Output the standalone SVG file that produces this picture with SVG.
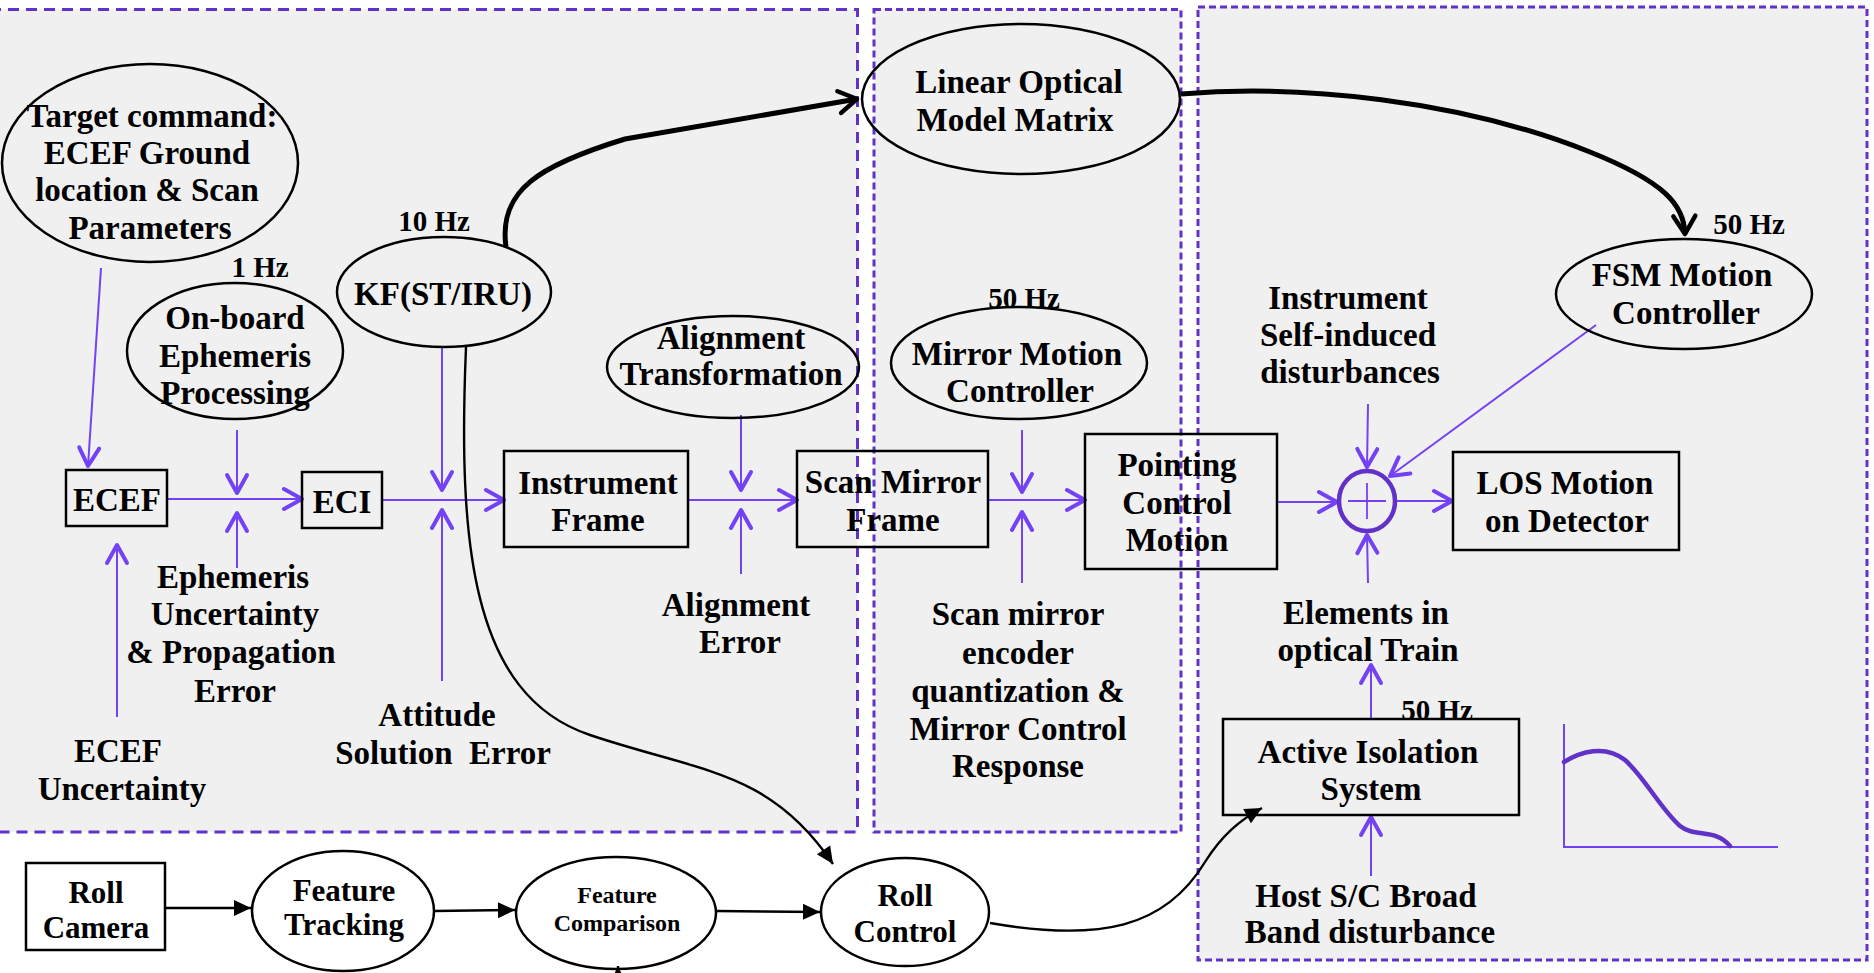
<svg xmlns="http://www.w3.org/2000/svg" width="1874" height="973" viewBox="0 0 1874 973">
<style>
text{font-family:"Liberation Serif","Times New Roman",serif;font-weight:bold;fill:#000;text-anchor:middle;font-size:33px}
.sm{font-size:29px}
.bt{font-size:31px}
.fc{font-size:24px}
.panel{fill:#f0f0f0;stroke:#6232c8;stroke-width:3}
.node{fill:none;stroke:#000;stroke-width:2.5}
.pl{fill:none;stroke:#7442f5;stroke-width:2;marker-end:url(#pv)}
.bk{fill:none;stroke:#000;stroke-width:2.4}
.bkt{fill:none;stroke:#000;stroke-width:5}
</style>
<defs>
<marker id="pv" markerUnits="userSpaceOnUse" markerWidth="40" markerHeight="40" viewBox="-25 -20 40 40" refX="0" refY="0" orient="auto" overflow="visible">
<path d="M-18,-10 L0,0 L-18,10" fill="none" stroke="#7442f5" stroke-width="4" stroke-linecap="round" stroke-linejoin="round"/>
</marker>
<marker id="bv" markerUnits="userSpaceOnUse" markerWidth="40" markerHeight="40" viewBox="-25 -20 40 40" refX="0" refY="0" orient="auto" overflow="visible">
<path d="M-18,-11 L0,0 L-18,11" fill="none" stroke="#000" stroke-width="4.5" stroke-linecap="round" stroke-linejoin="round"/>
</marker>
<marker id="bf" markerUnits="userSpaceOnUse" markerWidth="30" markerHeight="30" viewBox="-20 -12 30 24" refX="0" refY="0" orient="auto" overflow="visible">
<path d="M-17,-8 L0,0 L-17,8 Z" fill="#000"/>
</marker>
</defs>
<rect width="1874" height="973" fill="#fff"/>
<g id="panels">
<rect class="panel" x="-10" y="9.5" width="867.5" height="822.5" stroke-dasharray="11 7"/>
<rect class="panel" x="874" y="9.5" width="307" height="822.5" stroke-dasharray="7 4"/>
<rect class="panel" x="1198" y="7" width="669" height="953" stroke-dasharray="7 4"/>
</g>
<g id="connectors">
<path class="pl" d="M101,268 L88,466"/>
<path class="pl" d="M117,717 L117,545"/>
<path class="pl" d="M167,499 L302,499"/>
<path class="pl" d="M237,430 L237,493"/>
<path class="pl" d="M237,568 L237,513"/>
<path class="pl" d="M382,500 L504,500"/>
<path class="pl" d="M442,347 L442,490"/>
<path class="pl" d="M442,681 L442,510"/>
<path class="pl" d="M688,500 L797,500"/>
<path class="pl" d="M741,415 L741,490"/>
<path class="pl" d="M741,574 L741,510"/>
<path class="pl" d="M988,500 L1085,500"/>
<path class="pl" d="M1022,430 L1022,492"/>
<path class="pl" d="M1022,583 L1022,512"/>
<path class="pl" d="M1277,502 L1337,502"/>
<path class="pl" d="M1396,501 L1452,501"/>
<path class="pl" d="M1368,404 L1367,467"/>
<path class="pl" d="M1368,583 L1367,535"/>
<path class="pl" d="M1596,325 L1390,476"/>
<path class="pl" d="M1371,719 L1371,665"/>
<path class="pl" d="M1371,876 L1371,817"/>
<path class="bkt" d="M506,247 C498,190 540,165 625,139 L857,99" marker-end="url(#bv)"/>
<path class="bkt" d="M1181,94 C1300,84 1460,100 1590,152 C1665,182 1684,205 1685,234" marker-end="url(#bv)"/>
<path class="bk" d="M466,347 C458,540 470,695 590,735 C700,772 770,770 833,864" marker-end="url(#bf)"/>
<path class="bk" d="M990,923 C1100,942 1165,928 1205,862 C1222,835 1240,820 1262,808" marker-end="url(#bf)"/>
<path class="bk" d="M165,908 L251,908" marker-end="url(#bf)"/>
<path class="bk" d="M434,911 L515,910" marker-end="url(#bf)"/>
<path class="bk" d="M716,911 L820,912" marker-end="url(#bf)"/>
<path class="bk" d="M618,990 L618,966" marker-end="url(#bf)"/>
</g>
<g id="target-command">
<ellipse class="node" cx="150" cy="163" rx="148" ry="99"/>
<text x="152" y="127">Target command:</text>
<text x="147" y="164">ECEF Ground</text>
<text x="147" y="201">location &amp; Scan</text>
<text x="150" y="239">Parameters</text>
</g>
<g id="onboard-ephemeris">
<text class="sm" x="260" y="277">1 Hz</text>
<ellipse class="node" cx="235" cy="351" rx="108" ry="68"/>
<text x="235" y="329">On-board</text>
<text x="235" y="367">Ephemeris</text>
<text x="235" y="404">Processing</text>
</g>
<g id="kf">
<text class="sm" x="434" y="231">10 Hz</text>
<ellipse class="node" cx="444" cy="292" rx="107" ry="55"/>
<text x="443" y="305">KF(ST/IRU)</text>
</g>
<g id="ecef">
<rect class="node" x="66" y="470" width="101" height="56"/>
<text x="117" y="511">ECEF</text>
</g>
<g id="eci">
<rect class="node" x="302" y="472" width="80" height="56"/>
<text x="342" y="513">ECI</text>
</g>
<g id="instrument-frame">
<rect class="node" x="504" y="451" width="184" height="96"/>
<text x="598" y="494">Instrument</text>
<text x="598" y="531">Frame</text>
</g>
<g id="alignment-transformation">
<ellipse class="node" cx="733" cy="367" rx="126" ry="51"/>
<text x="731" y="349">Alignment</text>
<text x="731" y="385">Transformation</text>
</g>
<g id="scan-mirror-frame">
<rect class="node" x="797" y="451" width="191" height="96"/>
<text x="893" y="493">Scan Mirror</text>
<text x="893" y="531">Frame</text>
</g>
<g id="linear-optical">
<ellipse class="node" cx="1021" cy="99" rx="159" ry="75"/>
<text x="1019" y="93">Linear Optical</text>
<text x="1015" y="131">Model Matrix</text>
</g>
<g id="mirror-motion">
<text class="sm" x="1024" y="308">50 Hz</text>
<ellipse class="node" cx="1019" cy="363" rx="128" ry="56"/>
<text x="1017" y="365">Mirror Motion</text>
<text x="1020" y="402">Controller</text>
</g>
<g id="pointing-control">
<rect class="node" x="1085" y="434" width="192" height="135"/>
<text x="1177" y="476">Pointing</text>
<text x="1177" y="514">Control</text>
<text x="1177" y="551">Motion</text>
</g>
<g id="sum">
<ellipse cx="1367" cy="501" rx="28" ry="30" fill="none" stroke="#6232c8" stroke-width="4.5"/>
<path d="M1348,501 H1386 M1367,483 V519" stroke="#7442f5" stroke-width="1.8"/>
</g>
<g id="los">
<rect class="node" x="1453" y="452" width="226" height="98"/>
<text x="1565" y="494">LOS Motion</text>
<text x="1567" y="532">on Detector</text>
</g>
<g id="fsm">
<text class="sm" x="1749" y="234">50 Hz</text>
<ellipse class="node" cx="1684" cy="294" rx="128" ry="55"/>
<text x="1682" y="286">FSM Motion</text>
<text x="1686" y="324">Controller</text>
</g>
<g id="self-induced">
<text x="1348" y="309">Instrument</text>
<text x="1348" y="346">Self-induced</text>
<text x="1350" y="383">disturbances</text>
</g>
<g id="optical-train">
<text x="1366" y="624">Elements in</text>
<text x="1368" y="661">optical Train</text>
</g>
<g id="active-isolation">
<rect class="node" x="1223" y="719" width="296" height="96"/>
<text x="1368" y="763">Active Isolation</text>
<text x="1371" y="800">System</text>
<text class="sm" x="1437" y="720">50 Hz</text>
</g>
<g id="host-disturbance">
<text x="1366" y="907">Host S/C Broad</text>
<text x="1370" y="943">Band disturbance</text>
</g>
<g id="plot">
<path d="M1564,724 V847 H1778" fill="none" stroke="#7442f5" stroke-width="2"/>
<path d="M1564,762 C1580,752 1605,744 1625,760 C1645,778 1660,808 1680,826 C1695,838 1715,828 1730,846" fill="none" stroke="#6232c8" stroke-width="4.5" stroke-linecap="round"/>
</g>
<g id="ephemeris-uncertainty">
<text x="233" y="588">Ephemeris</text>
<text x="235" y="625">Uncertainty</text>
<text x="231" y="663">&amp; Propagation</text>
<text x="235" y="702">Error</text>
</g>
<g id="ecef-uncertainty">
<text x="118" y="762">ECEF</text>
<text x="122" y="800">Uncertainty</text>
</g>
<g id="attitude-error">
<text x="437" y="726">Attitude</text>
<text x="443" y="764" xml:space="preserve">Solution  Error</text>
</g>
<g id="alignment-error">
<text x="736" y="616">Alignment</text>
<text x="740" y="653">Error</text>
</g>
<g id="scan-mirror-error">
<text x="1018" y="625">Scan mirror</text>
<text x="1018" y="664">encoder</text>
<text x="1018" y="702">quantization &amp;</text>
<text x="1018" y="740">Mirror Control</text>
<text x="1018" y="777">Response</text>
</g>
<g id="roll-camera">
<rect class="node" x="26" y="863" width="139" height="87"/>
<text class="bt" x="96" y="903">Roll</text>
<text class="bt" x="96" y="938">Camera</text>
</g>
<g id="feature-tracking">
<ellipse class="node" cx="343" cy="911" rx="91" ry="60"/>
<text class="bt" x="344" y="901">Feature</text>
<text class="bt" x="344" y="935">Tracking</text>
</g>
<g id="feature-comparison">
<ellipse class="node" cx="616" cy="913" rx="100" ry="56"/>
<text class="fc" x="617" y="903">Feature</text>
<text class="fc" x="617" y="931">Comparison</text>
</g>
<g id="roll-control">
<ellipse class="node" cx="905" cy="912" rx="84" ry="54"/>
<text class="bt" x="905" y="906">Roll</text>
<text class="bt" x="905" y="942">Control</text>
</g>
</svg>
